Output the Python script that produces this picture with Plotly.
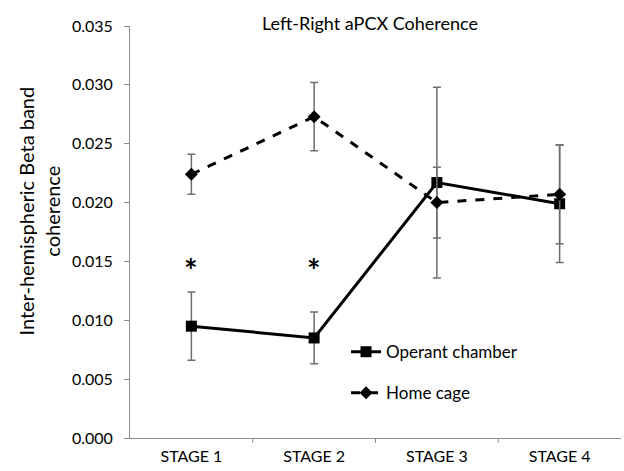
import plotly.graph_objects as go

stages = ["STAGE 1", "STAGE 2", "STAGE 3", "STAGE 4"]
operant = [0.0095, 0.0085, 0.0217, 0.0199]
operant_err = [0.0029, 0.0022, 0.0081, 0.0050]
home = [0.0224, 0.0273, 0.0200, 0.0207]
home_err = [0.0017, 0.0029, 0.0030, 0.0042]
star_stages = ["STAGE 1", "STAGE 2"]
star_y = [0.0142, 0.0142]
yticks = [0.000, 0.005, 0.010, 0.015, 0.020, 0.025, 0.030, 0.035]

font = "Lato, 'Open Sans', sans-serif"

fig = go.Figure()
fig.add_trace(go.Scatter(
    x=stages, y=operant, name="Operant chamber", mode="lines+markers",
    legendgroup="a",
    line=dict(color="black", width=3),
    marker=dict(symbol="square", size=11, color="black"),
    error_y=dict(type="data", array=operant_err, visible=True,
                 color="#6e6e6e", thickness=1.5, width=4),
))
fig.add_trace(go.Scatter(
    x=stages, y=home, name="Home cage", mode="lines+markers",
    legendgroup="b",
    line=dict(color="black", width=3, dash="dash"),
    marker=dict(symbol="diamond", size=10, color="black"),
    error_y=dict(type="data", array=home_err, visible=True,
                 color="#6e6e6e", thickness=1.5, width=4),
))

for s, yv in zip(star_stages, star_y):
    fig.add_annotation(x=s, y=yv, text="<b>*</b>", showarrow=False,
                       font=dict(size=32, color="black", family=font),
                       yanchor="middle")

fig.add_annotation(
    xref="paper", yref="paper", x=-0.185, y=0.55,
    text="Inter-hemispheric Beta band<br>coherence", textangle=-90,
    showarrow=False, align="center", xanchor="center", yanchor="middle",
    font=dict(size=20, family=font, color="black"),
)

fig.update_layout(
    width=624, height=471,
    margin=dict(l=130, r=3, t=26, b=33),
    paper_bgcolor="white", plot_bgcolor="white",
    font=dict(family=font, color="black", size=14),
    title=dict(text="Left-Right aPCX Coherence", x=0.593, xanchor="center",
               y=0.949, yanchor="middle", font=dict(size=18, family=font)),
    showlegend=True,
    legend=dict(x=0.44, y=0.252, xanchor="left", yanchor="top",
                bgcolor="rgba(0,0,0,0)", font=dict(size=17, family=font),
                tracegroupgap=16, itemwidth=30),
)
fig.update_xaxes(
    showline=True, linecolor="#8c8c8c", linewidth=1,
    ticks="", showgrid=False, tickfont=dict(size=16),
    ticklabelstandoff=4,
    range=[-0.5, 3.5],
)
fig.update_yaxes(
    range=[0, 0.035], tickvals=yticks, tickformat=".3f",
    showline=True, linecolor="#8c8c8c", linewidth=1,
    ticks="outside", ticklen=5, tickcolor="#8c8c8c",
    ticklabelstandoff=8,
    showgrid=False, zeroline=False, tickfont=dict(size=16),
)
# category boundary ticks on x axis
for b in [0.5, 1.5, 2.5]:
    fig.add_shape(type="line", xref="x", yref="paper", x0=b, x1=b,
                  y0=0, y1=-0.012, line=dict(color="#8c8c8c", width=1))

fig.write_html("out.html")
